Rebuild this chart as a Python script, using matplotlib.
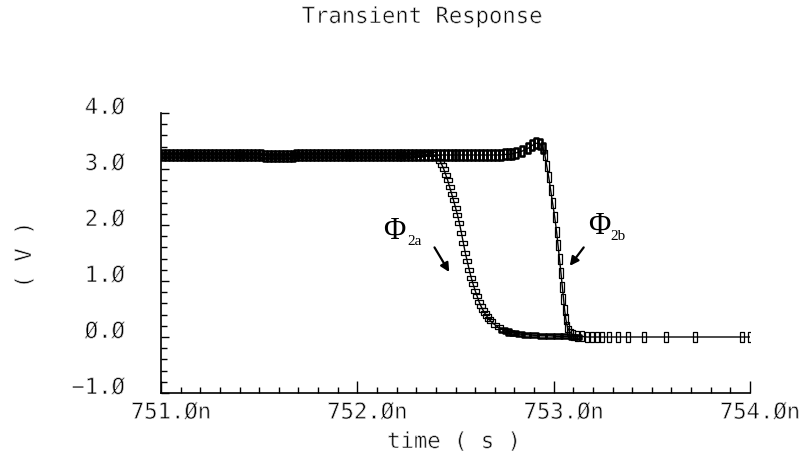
import matplotlib
matplotlib.use("Agg")
import matplotlib.pyplot as plt
import matplotlib.transforms as mtransforms
import matplotlib.patheffects as pe
from matplotlib.path import Path

# --- data (time in ns, voltage in V) ---
# Phi_2a : flat part (dense simulation points) then the slow fall
phi2a_time = [
    751.00, 751.02, 751.04, 751.06, 751.08, 751.10, 751.12, 751.14, 751.16, 751.18,
    751.20, 751.22, 751.24, 751.26, 751.28, 751.30, 751.32, 751.34, 751.36, 751.38,
    751.40, 751.42, 751.44, 751.46, 751.48, 751.50, 751.52, 751.54, 751.56, 751.58,
    751.60, 751.62, 751.64, 751.66, 751.68, 751.70, 751.72, 751.74, 751.76, 751.78,
    751.80, 751.82, 751.84, 751.86, 751.88, 751.90, 751.92, 751.94, 751.96, 751.98,
    752.00, 752.02, 752.04, 752.06, 752.08, 752.10, 752.12, 752.14, 752.16, 752.18,
    752.20, 752.22, 752.24, 752.26, 752.28, 752.30, 752.32, 752.34, 752.36,
    752.38, 752.40, 752.42, 752.43, 752.44, 752.45, 752.46, 752.47, 752.48, 752.49,
    752.50, 752.51, 752.52, 752.53, 752.54, 752.55, 752.56, 752.57, 752.58, 752.59,
    752.60, 752.61, 752.62, 752.63, 752.64, 752.65, 752.66, 752.67, 752.68, 752.70,
    752.72, 752.74, 752.76, 752.78, 752.80, 752.83, 752.86, 752.90, 752.94, 752.98,
    753.02, 753.06, 753.10, 753.12,
]
phi2a_volt = [
    3.25, 3.25, 3.25, 3.25, 3.25, 3.25, 3.25, 3.25, 3.25, 3.25,
    3.25, 3.25, 3.25, 3.25, 3.25, 3.25, 3.25, 3.25, 3.25, 3.25,
    3.25, 3.25, 3.25, 3.25, 3.25, 3.25, 3.24, 3.23, 3.23, 3.23,
    3.23, 3.23, 3.23, 3.24, 3.25, 3.25, 3.25, 3.25, 3.25, 3.25,
    3.25, 3.25, 3.25, 3.25, 3.25, 3.25, 3.25, 3.25, 3.25, 3.25,
    3.25, 3.25, 3.25, 3.25, 3.25, 3.25, 3.25, 3.25, 3.25, 3.25,
    3.25, 3.25, 3.25, 3.25, 3.25, 3.26, 3.27, 3.28, 3.29,
    3.27, 3.22, 3.15, 3.08, 3.00, 2.90, 2.80, 2.68, 2.56, 2.44,
    2.31, 2.18, 2.03, 1.86, 1.68, 1.50, 1.35, 1.20, 1.06, 0.94,
    0.83, 0.73, 0.63, 0.55, 0.48, 0.42, 0.37, 0.32, 0.28, 0.22,
    0.17, 0.13, 0.10, 0.08, 0.07, 0.05, 0.04, 0.03, 0.02, 0.02,
    0.01, 0.01, 0.00, 0.00,
]

# Phi_2b : flat part, overshoot bump, sharp fall, long tail
phi2b_time = [
    751.01, 751.03, 751.05, 751.07, 751.09, 751.11, 751.13, 751.15, 751.17, 751.19,
    751.21, 751.23, 751.25, 751.27, 751.29, 751.31, 751.33, 751.35, 751.37, 751.39,
    751.41, 751.43, 751.45, 751.47, 751.49, 751.51, 751.53, 751.55, 751.57, 751.59,
    751.61, 751.63, 751.65, 751.67, 751.69, 751.71, 751.73, 751.75, 751.77, 751.79,
    751.81, 751.83, 751.85, 751.87, 751.89, 751.91, 751.93, 751.95, 751.97, 751.99,
    752.01, 752.03, 752.05, 752.07, 752.09, 752.11, 752.13, 752.15, 752.17, 752.19,
    752.21, 752.23, 752.25, 752.27, 752.29, 752.31, 752.33, 752.35, 752.37, 752.39,
    752.41, 752.43, 752.45, 752.47, 752.49, 752.51, 752.53, 752.55, 752.57, 752.59,
    752.61, 752.63, 752.65, 752.67, 752.69, 752.71, 752.73, 752.75, 752.77, 752.79,
    752.81, 752.84, 752.87, 752.89, 752.91, 752.93, 752.945, 752.955, 752.965, 752.975,
    752.985, 752.995, 753.005, 753.015, 753.022, 753.03, 753.037, 753.044, 753.05, 753.056,
    753.062, 753.07, 753.08, 753.09, 753.10, 753.12, 753.145, 753.17, 753.195, 753.22,
    753.245, 753.28, 753.33, 753.38, 753.46, 753.57, 753.72, 753.96, 754.00,
]
phi2b_volt = [
    3.25, 3.25, 3.25, 3.25, 3.25, 3.25, 3.25, 3.25, 3.25, 3.25,
    3.25, 3.25, 3.25, 3.25, 3.25, 3.25, 3.25, 3.25, 3.25, 3.25,
    3.25, 3.25, 3.25, 3.25, 3.25, 3.25, 3.24, 3.23, 3.23, 3.23,
    3.23, 3.23, 3.23, 3.24, 3.25, 3.25, 3.25, 3.25, 3.25, 3.25,
    3.25, 3.25, 3.25, 3.25, 3.25, 3.25, 3.25, 3.25, 3.25, 3.25,
    3.25, 3.25, 3.25, 3.25, 3.25, 3.25, 3.25, 3.25, 3.25, 3.25,
    3.25, 3.25, 3.25, 3.25, 3.25, 3.25, 3.25, 3.25, 3.25, 3.25,
    3.25, 3.25, 3.25, 3.25, 3.25, 3.25, 3.25, 3.25, 3.25, 3.25,
    3.25, 3.25, 3.25, 3.25, 3.25, 3.25, 3.25, 3.26, 3.26, 3.27,
    3.29, 3.32, 3.37, 3.42, 3.46, 3.45, 3.38, 3.25, 3.05, 2.85,
    2.62, 2.40, 2.15, 1.88, 1.65, 1.40, 1.15, 0.90, 0.68, 0.48,
    0.32, 0.18, 0.10, 0.06, 0.04, 0.02, 0.01, 0.00, 0.00, 0.00,
    0.00, 0.00, 0.00, 0.00, 0.00, 0.00, 0.00, 0.00, 0.00,
]

x_ticks = [751.0, 752.0, 753.0, 754.0]
x_tick_labels = ["751.Øn", "752.Øn", "753.Øn", "754.Øn"]
y_ticks = [-1.0, 0.0, 1.0, 2.0, 3.0, 4.0]
y_tick_labels = ["−1.Ø", "Ø.Ø", "1.Ø", "2.Ø", "3.Ø", "4.Ø"]

plt.rcParams["font.family"] = ["DejaVu Sans Mono", "DejaVu Sans"]

# thin strokes like the plotter font: erode glyphs with a white outline on top
thin = [pe.Normal(), pe.Stroke(linewidth=0.5, foreground="white")]

fig = plt.figure(figsize=(8.07, 4.53), dpi=100)
ax = fig.add_axes([161 / 807, 60 / 453, 589 / 807, 280 / 453])

# rectangle markers
codes = [Path.MOVETO, Path.LINETO, Path.LINETO, Path.LINETO, Path.CLOSEPOLY]
rect_wide = Path([(-1, -0.55), (1, -0.55), (1, 0.55), (-1, 0.55), (-1, -0.55)], codes)
rect_tall = Path([(-0.45, -1), (0.45, -1), (0.45, 1), (-0.45, 1), (-0.45, -1)], codes)

ax.plot(phi2a_time, phi2a_volt, color="black", lw=1.0, marker=rect_wide,
        ms=5.8, mfc="none", mec="black", mew=0.9)
ax.plot(phi2b_time, phi2b_volt, color="black", lw=1.0, marker=rect_tall,
        ms=6.8, mfc="none", mec="black", mew=0.9)

# where the simulator points pile up the markers merge into a solid band
dense_a = [i for i, t in enumerate(phi2a_time) if t < 752.37 or t > 752.73]
dense_b = [i for i, t in enumerate(phi2b_time) if t < 752.95]
ax.plot([phi2a_time[i] for i in dense_a], [phi2a_volt[i] for i in dense_a], ls="none",
        marker=rect_wide, ms=5.8, mfc="none", mec="black", mew=1.8)
ax.plot([phi2b_time[i] for i in dense_b], [phi2b_volt[i] for i in dense_b], ls="none",
        marker=rect_tall, ms=7.2, mfc="none", mec="black", mew=1.8)

ax.set_xlim(751.0, 754.0)
ax.set_ylim(-1.0, 4.0)

ax.spines["top"].set_visible(False)
ax.spines["right"].set_visible(False)
ax.spines["left"].set_linewidth(1.2)
ax.spines["bottom"].set_linewidth(1.2)

ax.set_xticks(x_ticks)
ax.set_xticklabels(x_tick_labels)
ax.set_yticks(y_ticks)
ax.set_yticklabels(y_tick_labels)
ax.set_xticks([751.0 + 0.1 * i for i in range(31)], minor=True)
ax.set_yticks([-1.0 + 0.2 * i for i in range(26)], minor=True)

ax.tick_params(axis="x", which="major", direction="in", length=9, width=1, labelsize=16, pad=7)
ax.tick_params(axis="x", which="minor", direction="in", length=4, width=1)
ax.tick_params(axis="y", which="major", direction="in", length=6, width=1, labelsize=16, pad=26)
ax.tick_params(axis="y", which="minor", direction="in", length=4, width=1)

# labels in the original sit slightly off their ticks
for lab in ax.get_xticklabels():
    lab.set_transform(lab.get_transform() + mtransforms.ScaledTranslation(10 / 100, 0, fig.dpi_scale_trans))
    lab.set_path_effects(thin)
for lab in ax.get_yticklabels():
    lab.set_transform(lab.get_transform() + mtransforms.ScaledTranslation(0, 7 / 100, fig.dpi_scale_trans))
    lab.set_path_effects(thin)

fig.text(0.523, 1 - 17 / 453, "Transient Response", ha="center", va="center",
         fontsize=16, path_effects=thin)
fig.text(454 / 807, 1 - 442 / 453, "time ( s )", ha="center", va="center",
         fontsize=16, path_effects=thin)
fig.text(25 / 807, 1 - 255 / 453, "( V )", ha="center", va="center", fontsize=16,
         rotation=90, path_effects=thin)

# annotations
serif = ["Liberation Serif", "DejaVu Serif"]
ax.text(752.19, 1.89, "Φ", ha="center", va="center", fontsize=22, family=serif)
ax.text(752.29, 1.70, "2a", ha="center", va="center", fontsize=11, family=serif)
ax.text(753.23, 1.98, "Φ", ha="center", va="center", fontsize=22, family=serif)
ax.text(753.33, 1.79, "2b", ha="center", va="center", fontsize=11, family=serif)

arrow = dict(arrowstyle="-|>", color="black", lw=1.6, mutation_scale=13, shrinkA=0, shrinkB=0)
ax.annotate("", xy=(752.468, 1.16), xytext=(752.393, 1.60), arrowprops=arrow)
ax.annotate("", xy=(753.082, 1.27), xytext=(753.153, 1.60), arrowprops=arrow)

fig.savefig("out.png", dpi=100)
